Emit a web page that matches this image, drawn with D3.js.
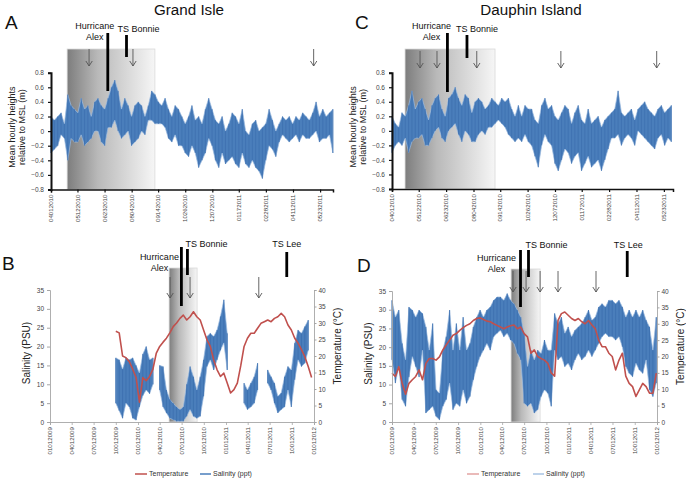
<!DOCTYPE html>
<html><head><meta charset="utf-8">
<script src="https://cdn.jsdelivr.net/npm/d3@7"></script>
<style>
body{margin:0;background:#fff;}
svg{display:block;font-family:"Liberation Sans",Arial,sans-serif;}
</style></head><body>
<svg id="chart" width="686" height="482"></svg>
<script>
// ---------------- DATA ----------------
// Panel A – Grand Isle water level (m), sampled every 5.2 days from 2010-04-01 (upper / lower envelope)
const tideStartA = "2010-04-01", tideStepA = 5.2;
const tideHiA = [0.2,0.15,0.2,0.25,0.1,0.5,0.35,0.3,0.25,0.45,0.3,0.35,0.2,0.4,0.45,0.35,0.3,0.45,0.6,0.7,0.55,0.3,0.45,0.35,0.2,0.35,0.4,0.35,0.2,0.35,0.55,0.5,0.4,0.35,0.45,0.3,0.2,0.35,0.3,0.2,0.1,0.2,0.35,0.15,0.2,0.1,0.3,0.45,0.3,0.15,0.1,0.2,0.0,0.1,0.25,0.2,0.1,0.3,0.0,-0.05,0.1,0.15,0.0,0.05,0.1,0.3,0.15,0.0,0.1,0.2,0.15,0.2,0.1,0.2,0.15,0.25,0.2,0.15,0.25,0.4,0.2,0.3,0.2,0.25,0.3];
const tideLoA = [-0.3,-0.25,-0.2,-0.05,-0.1,-0.4,-0.1,-0.15,-0.15,-0.05,-0.2,-0.15,-0.1,0.0,0.0,-0.15,-0.2,0.05,0.05,0.15,0.0,-0.1,-0.05,0.0,-0.2,-0.15,-0.1,0.0,-0.05,0.15,0.15,0.1,0.1,0.1,0.05,-0.1,-0.15,-0.05,-0.2,-0.2,-0.3,-0.35,-0.2,-0.3,-0.5,-0.4,-0.3,-0.1,-0.2,-0.4,-0.5,-0.3,-0.45,-0.4,-0.35,-0.45,-0.5,-0.3,-0.45,-0.5,-0.4,-0.5,-0.55,-0.65,-0.4,-0.2,-0.25,-0.35,-0.15,-0.05,-0.1,-0.15,-0.1,-0.05,-0.15,-0.05,-0.1,-0.1,-0.05,0.0,-0.15,-0.1,-0.1,-0.05,-0.3];

// Panel C – Dauphin Island water level (m), sampled every 5.1 days from 2010-04-01
const tideStartC = "2010-04-01", tideStepC = 5.1;
const tideHiC = [0.2,0.1,0.05,0.25,0.2,0.35,0.55,0.3,0.4,0.45,0.3,0.15,0.35,0.45,0.5,0.3,0.2,0.45,0.5,0.6,0.45,0.35,0.5,0.45,0.25,0.4,0.45,0.4,0.3,0.35,0.45,0.4,0.35,0.45,0.4,0.45,0.3,0.2,0.35,0.2,0.35,0.3,0.3,0.15,0.1,0.35,0.45,0.3,0.35,0.2,0.15,0.25,0.35,0.3,0.1,0.25,0.35,0.15,0.1,0.3,0.1,0.15,0.2,0.05,0.15,0.2,0.25,0.3,0.55,0.25,0.2,0.25,0.3,0.15,0.3,0.35,0.4,0.3,0.25,0.2,0.3,0.35,0.25,0.3,0.35];
const tideLoC = [-0.3,-0.2,-0.15,-0.2,-0.1,-0.3,-0.15,-0.1,-0.1,-0.05,-0.2,-0.2,-0.1,0.0,0.05,-0.1,-0.15,0.0,0.05,0.1,-0.05,-0.15,0.0,-0.05,-0.15,-0.15,-0.05,0.0,-0.05,0.05,0.05,0.1,0.15,0.1,0.05,-0.05,-0.1,-0.15,-0.1,-0.15,-0.05,-0.15,-0.2,-0.35,-0.5,-0.2,-0.05,-0.15,-0.2,-0.45,-0.55,-0.4,-0.25,-0.3,-0.45,-0.35,-0.3,-0.55,-0.45,-0.35,-0.5,-0.45,-0.4,-0.55,-0.4,-0.25,-0.1,-0.1,-0.05,-0.2,-0.1,-0.05,-0.1,-0.2,0.0,-0.05,-0.1,-0.15,-0.2,-0.25,-0.1,-0.05,-0.2,-0.1,-0.15];

// Panel B – Grand Isle, every 14 days from 2009-10-01
const wqStartB = "2009-10-01", wqStepB = 14;
const tempB = [27.5,27,20,19.5,18.3,16,13.5,6,13.5,12.5,13.8,16,20.9,22.9,24.2,25.4,27,28.9,30,31.4,32.4,30.9,31.9,33.4,31.9,30.9,27.9,24.9,22.9,18.8,15.8,13.8,14.8,11.8,8.8,9.8,11.8,17,22.9,25.4,26.9,26.9,28.4,29.9,30.4,30.9,30.4,31.4,31.9,32.9,31.9,29.4,27.9,25.4,23.9,21.9,19.8,16.8,13.5];
const salHiB = [17,16.5,14,17,16.5,17,15,13,18,20,16.5,17,null,15,14.7,8.5,6,5,4,3.3,4,10,14.7,12,8.5,12,16.5,22.7,23.5,22.7,24.4,28,32.4,23.5,null,null,null,null,10.3,8.5,10.3,12,15.6,null,null,13.8,12,10.3,6.8,7.7,12,14.7,13.8,20.9,24.4,23.5,25.3,27,null];
const salLoB = [5,3,1,5,4,1,0.5,4,7,8.5,7.5,10,null,8.5,4,2.4,1,0.6,0.2,0.2,0.2,1.5,3.3,1.5,1,1.5,6.8,14.7,16.5,13.8,16.5,19,21,13.8,null,null,null,null,5,3.3,4,5,8.5,null,null,10.3,8.5,5,2.4,3.3,4,8.5,4,11.2,16.5,14.7,15.6,19,null];

// Panel D – Dauphin Island, every 14 days from 2009-01-01
const wqStartD = "2009-01-01", wqStepD = 14;
const tempD = [14.9,13.9,16.9,11.8,8.5,11.8,12.9,13.9,15.9,12.9,17.9,19.4,19.4,18.9,19.9,22,23.5,25,26.5,27,28,28.8,29.5,30,31,31.6,31.8,31.3,30.8,30.6,30,29.5,29,28.5,29,29.4,29.6,28.5,29,27,26,21,22,20,19.4,18.9,17.9,15,14,31,33.1,33.6,32.6,31.6,31,31.6,30.6,30,31,29.6,28.5,25,23,23,21,20,15.9,18.9,21,14,11.8,10.8,7.8,9.8,11.8,10.8,8.8,8.8,14.9];
const salHiD = [32.5,28,29.9,21,16.6,30.7,29.9,28,29.9,29,25.4,19.2,26.3,8.6,7.7,19.2,22.8,29.9,19.2,26.3,19.2,28,19.2,21,25.4,28,29.9,28,29.9,30.7,32.5,33.4,33.4,32.5,34.3,32.5,31.6,29.9,28,23.7,14.8,19.2,16.6,19.2,18.3,21.9,19.2,19.2,29,26.3,28,23.7,25.4,22.8,24.5,25.4,26.3,28,29.9,27.2,28,30.7,31.6,30.7,32.5,32.5,31.6,32.5,30.7,28,29.9,28,29.9,28,29.9,27.2,25.4,19.2,28];
const salLoD = [16.6,10.4,14.8,6,4.2,12,17.5,14.8,12,19.2,2.4,3.3,4.2,1.5,0.6,4.2,6,10.4,3.3,5,4.2,8.6,5,6.8,11.3,14.8,17.5,19.2,21,19.2,22.8,23.7,24.5,22.8,23.7,21.9,21,18.3,16.6,5,4.2,5,2.4,3.3,6.8,8.6,7.7,4.2,19.2,16.6,17.5,14.8,15.7,13.9,16.6,18.3,16.6,17.5,19.2,17.5,19.2,21,22.8,23.7,22.8,22.8,21.9,22.8,20.1,14.8,13,12.1,15.7,13.9,13,16.6,8.6,6.8,10.4];

// Tick labels
const tideTickLabels = ["04012010","05122010","06232010","08042010","09142010","10262010","12072010","01172011","02282011","04112011","05232011"];
const wqTickLabels = ["01012009","04012009","07012009","10012009","01012010","04012010","07012010","10012010","01012011","04012011","07012011","10012011","01012012"];
const tideYTicks = [0.8,0.6,0.4,0.2,0,-0.2,-0.4,-0.6,-0.8];
const salTicks = [0,5,10,15,20,25,30,35];
const tempTicks = [0,5,10,15,20,25,30,35,40];

// Events (dates as placed in each panel)
const eventsA = [{n:["Hurricane","Alex"],d:"2010-06-28"},{n:["TS Bonnie"],d:"2010-07-27"}];
const eventsC = [{n:["Hurricane","Alex"],d:"2010-06-25"},{n:["TS Bonnie"],d:"2010-07-25"}];
const eventsB = [{n:["Hurricane","Alex"],d:"2010-06-30"},{n:["TS Bonnie"],d:"2010-07-25"},{n:["TS Lee"],d:"2011-09-10"}];
const eventsD = [{n:["Hurricane","Alex"],d:"2010-06-16"},{n:["TS Bonnie"],d:"2010-07-19"},{n:["TS Lee"],d:"2011-08-31"}];
const arrowsA = ["2010-05-30","2010-08-06","2011-05-13"];
const arrowsC = ["2010-05-14","2010-06-09","2010-08-09","2010-12-16","2011-05-12"];
const arrowsB = ["2010-05-14","2010-08-05","2011-05-17"];
const arrowsD = ["2010-05-16","2010-07-09","2010-09-05","2010-11-18","2011-04-24"];
const shadeA = ["2010-04-26","2010-09-09"], shadeC = ["2010-04-21","2010-09-06"];
const shadeB = ["2010-05-10","2010-09-03"], shadeD = ["2010-05-08","2010-09-05"];

// ---------------- DRAW ----------------
const DAY = 864e5;
const P = d3.timeParse("%Y-%m-%d");
const PM = d3.timeParse("%m%d%Y");
const svg = d3.select("#chart");
const BLUE = "#4a7ebb", BLUE_D = "#3d70b0", BLUE_L = "#9dbbe0", RED = "#c0504d";

const defs = svg.append("defs");
const gr = defs.append("linearGradient").attr("id","shade").attr("x1","0").attr("x2","1").attr("y1","0").attr("y2","0");
gr.append("stop").attr("offset","0%").attr("stop-color","#7d7d7d");
gr.append("stop").attr("offset","35%").attr("stop-color","#b9b9b9");
gr.append("stop").attr("offset","100%").attr("stop-color","#f6f6f6");

function series(start, step, keys) {
  const t0 = P(start).getTime();
  const n = keys[Object.keys(keys)[0]].length;
  return d3.range(n).map(i => {
    const o = {t:new Date(t0 + i*step*DAY)};
    for (const k in keys) o[k] = keys[k][i];
    return o;
  });
}

// vertical strokes from low to high at each sample (texture of dense hourly data)
function spikes(g, data, x, y, color, w) {
  g.append("path").attr("d", data.filter(d => d.hi != null)
      .map(d => `M${x(d.t).toFixed(2)},${y(d.lo).toFixed(2)}V${y(d.hi).toFixed(2)}`).join(""))
    .attr("fill","none").attr("stroke", color).attr("stroke-width", w);
}

function band(g, data, x, y, fill, edge) {
  g.append("path").attr("d", d3.area().defined(d => d.hi != null).x(d => x(d.t)).y0(d => y(d.lo)).y1(d => y(d.hi))(data))
    .attr("fill", fill).attr("stroke", edge).attr("stroke-width", 0.7).attr("stroke-linejoin","bevel");
}

function shadeRect(g, x, s, top, bot) {
  g.append("rect").attr("x", x(P(s[0]))).attr("y", top)
    .attr("width", x(P(s[1])) - x(P(s[0]))).attr("height", bot - top)
    .attr("fill","url(#shade)").attr("stroke","#d9d9d9").attr("stroke-width",0.8);
}

function arrow(g, xp, y1, y2) {
  g.append("path").attr("d", `M${xp},${y1}V${y2}M${xp-3.2},${y2-5}L${xp},${y2}L${xp+3.2},${y2-5}`)
    .attr("fill","none").attr("stroke","#555").attr("stroke-width",0.9);
}

function eventMarks(g, x, evs, layout) {
  evs.forEach((e, i) => {
    const L = layout[i];
    const xp = x(P(e.d));
    g.append("rect").attr("x", xp - 1.4).attr("y", L.b1).attr("width", 2.8).attr("height", L.b2 - L.b1).attr("fill","#000");
    e.n.forEach((s, j) => {
      g.append("text").attr("x", xp + L.dx).attr("y", L.ty + j*11).attr("text-anchor","middle")
        .attr("font-size", 9).attr("fill","#111").text(s);
    });
  });
}

function dateAxis(g, x, labels, yAxis, color, lineW) {
  const ax = d3.axisBottom(x).tickValues(labels.map(PM)).tickSize(3).tickFormat("");
  const a = g.append("g").attr("transform", `translate(0,${yAxis})`).call(ax);
  a.select(".domain").attr("stroke", color).attr("stroke-width", lineW);
  a.selectAll(".tick line").attr("stroke", color).attr("stroke-width", lineW > 1 ? 1.2 : 0.8);
  labels.forEach(l => {
    g.append("text").attr("transform", `translate(${x(PM(l))},${yAxis + 5}) rotate(-90)`)
      .attr("text-anchor","end").attr("dy","0.35em").attr("font-size", 6.2).attr("fill","#444").text(l);
  });
}

function tidePanel(cfg) {
  const g = svg.append("g");
  const x = d3.scaleTime().domain([P(cfg.dom[0]), P(cfg.dom[1])]).range([cfg.x0, cfg.x1]);
  const y = d3.scaleLinear().domain([-0.8, 0.8]).range([cfg.yb, cfg.yt]);
  shadeRect(g, x, cfg.shade, cfg.shadeTop, cfg.yb);
  const data = series(cfg.start, cfg.step, {hi: cfg.hi, lo: cfg.lo});
  band(g, data, x, y, BLUE, BLUE_L);
  spikes(g, data, x, y, BLUE_D, 0.8);
  // y axis
  const ya = g.append("g").attr("transform", `translate(${cfg.x0},0)`)
    .call(d3.axisLeft(y).tickValues(tideYTicks).tickSize(3).tickPadding(4).tickFormat(v => v === 0 ? "0" : d3.format(".1f")(v)));
  ya.select(".domain").attr("stroke","#111").attr("stroke-width",2);
  ya.selectAll(".tick line").attr("stroke","#111").attr("stroke-width",1.2);
  ya.selectAll("text").attr("font-size",6.5).attr("fill","#444").attr("font-family","Liberation Sans, Arial, sans-serif");
  dateAxis(g, x, tideTickLabels, cfg.yb, "#111", 1.5);
  // y title
  const cy = (cfg.yt + cfg.yb) / 2 - 4;
  ["Mean hourly heights","relative to  MSL (m)"].forEach((s, j) => {
    g.append("text").attr("transform", `translate(${cfg.x0 - 36 + j*9.5},${cy}) rotate(-90)`)
      .attr("text-anchor","middle").attr("font-size", 9).attr("fill","#222").text(s);
  });
  cfg.arrows.forEach(d => arrow(g, x(P(d)), cfg.ar[0], cfg.ar[1]));
  eventMarks(g, x, cfg.events, cfg.evLayout);
  g.append("text").attr("x", cfg.titleX).attr("y", 15).attr("text-anchor","middle").attr("font-size",15.2).attr("fill","#111").text(cfg.title);
  g.append("text").attr("x", cfg.letterX).attr("y", 29).attr("font-size",19).attr("fill","#111").text(cfg.letter);
}

function wqPanel(cfg) {
  const g = svg.append("g");
  const x = d3.scaleTime().domain([P("2009-01-01"), P("2012-01-01")]).range([cfg.x0, cfg.x1]);
  const yS = d3.scaleLinear().domain([0, 35]).range([cfg.yb, cfg.yt]);
  const yT = d3.scaleLinear().domain([0, 40]).range([cfg.yb, cfg.yt]);
  shadeRect(g, x, cfg.shade, cfg.shadeTop, cfg.yb);
  const sal = series(cfg.start, cfg.step, {hi: cfg.salHi, lo: cfg.salLo});
  band(g, sal, x, yS, BLUE, BLUE_L);
  spikes(g, sal, x, yS, BLUE_D, 0.9);
  const tmp = series(cfg.start, cfg.step, {v: cfg.temp});
  g.append("path").attr("d", d3.line().defined(d => d.v != null).x(d => x(d.t)).y(d => yT(d.v))(tmp))
    .attr("fill","none").attr("stroke", RED).attr("stroke-width", 1.6).attr("stroke-linejoin","round");
  // axes
  const ya = g.append("g").attr("transform", `translate(${cfg.x0},0)`)
    .call(d3.axisLeft(yS).tickValues(salTicks).tickSize(3).tickPadding(3));
  const yr = g.append("g").attr("transform", `translate(${cfg.x1},0)`)
    .call(d3.axisRight(yT).tickValues(tempTicks).tickSize(2.5).tickPadding(2));
  [ya, yr].forEach(a => {
    a.select(".domain").attr("stroke","#a6a6a6").attr("stroke-width",0.9);
    a.selectAll(".tick line").attr("stroke","#a6a6a6");
    a.selectAll("text").attr("font-size",6.5).attr("fill","#444").attr("font-family","Liberation Sans, Arial, sans-serif");
  });
  dateAxis(g, x, wqTickLabels, cfg.yb, "#a6a6a6", 0.9);
  const cy = (cfg.yt + cfg.yb) / 2;
  g.append("text").attr("transform", `translate(${cfg.x0 - 20},${cy - 3}) rotate(-90)`).attr("text-anchor","middle").attr("font-size",10).attr("fill","#222").text("Salinity (PSU)");
  g.append("text").attr("transform", `translate(${cfg.x1 + 27},${cy - 10}) rotate(-90)`).attr("text-anchor","middle").attr("font-size",10).attr("fill","#222").text("Temperature (\u00B0C)");
  cfg.arrows.forEach(d => arrow(g, x(P(d)), cfg.ar[0], cfg.ar[1]));
  eventMarks(g, x, cfg.events, cfg.evLayout);
  g.append("text").attr("x", cfg.letterX).attr("y", cfg.letterY).attr("font-size",19).attr("fill","#111").text(cfg.letter);
  // legend
  const lg = g.append("g").attr("transform", `translate(${cfg.legX},474)`);
  lg.append("line").attr("x1",0).attr("x2",12).attr("stroke",cfg.legRed).attr("stroke-width",1.5);
  lg.append("text").attr("x",14).attr("dy","0.35em").attr("font-size",7).attr("fill","#333").text("Temperature");
  lg.append("line").attr("x1",cfg.legGap).attr("x2",cfg.legGap + 11).attr("stroke",cfg.legBlue).attr("stroke-width",1.5);
  lg.append("text").attr("x",cfg.legGap + 13).attr("dy","0.35em").attr("font-size",7).attr("fill","#333").text("Salinity (ppt)");
}

tidePanel({x0:51, x1:333, yt:72.7, yb:189.5, dom:["2010-04-01","2011-06-12"], start:tideStartA, step:tideStepA,
  hi:tideHiA, lo:tideLoA, shade:shadeA, shadeTop:49, arrows:arrowsA, ar:[49,66], events:eventsA,
  evLayout:[{b1:33,b2:91,dx:-13,ty:29},{b1:35,b2:57,dx:12,ty:32}], title:"Grand Isle", titleX:189, letter:"A", letterX:5});
tidePanel({x0:392, x1:673, yt:72.7, yb:189, dom:["2010-04-01","2011-06-06"], start:tideStartC, step:tideStepC,
  hi:tideHiC, lo:tideLoC, shade:shadeC, shadeTop:49, arrows:arrowsC, ar:[51,68], events:eventsC,
  evLayout:[{b1:33,b2:92,dx:-16,ty:29},{b1:35,b2:58,dx:10,ty:32}], title:"Dauphin Island", titleX:531, letter:"C", letterX:355});
wqPanel({x0:50, x1:314, yt:290, yb:422, start:wqStartB, step:wqStepB, temp:tempB, salHi:salHiB, salLo:salLoB,
  shade:shadeB, shadeTop:268, arrows:arrowsB, ar:[277,298], events:eventsB,
  evLayout:[{b1:247,b2:306,dx:-22,ty:260},{b1:249,b2:275,dx:19,ty:247},{b1:252,b2:277,dx:0,ty:247}],
  letter:"B", letterX:2, letterY:270, legX:135, legGap:65, legRed:RED, legBlue:BLUE});
wqPanel({x0:392, x1:657, yt:291, yb:422, start:wqStartD, step:wqStepD, temp:tempD, salHi:salHiD, salLo:salLoD,
  shade:shadeD, shadeTop:269, arrows:arrowsD, ar:[271,292], events:eventsD,
  evLayout:[{b1:250,b2:307,dx:-24,ty:261},{b1:250,b2:277,dx:18,ty:248},{b1:251,b2:277,dx:1,ty:248}],
  letter:"D", letterX:357, letterY:272, legX:467, legGap:66, legRed:"#e3a3a2", legBlue:"#a7c3e3"});
</script>
</body></html>
